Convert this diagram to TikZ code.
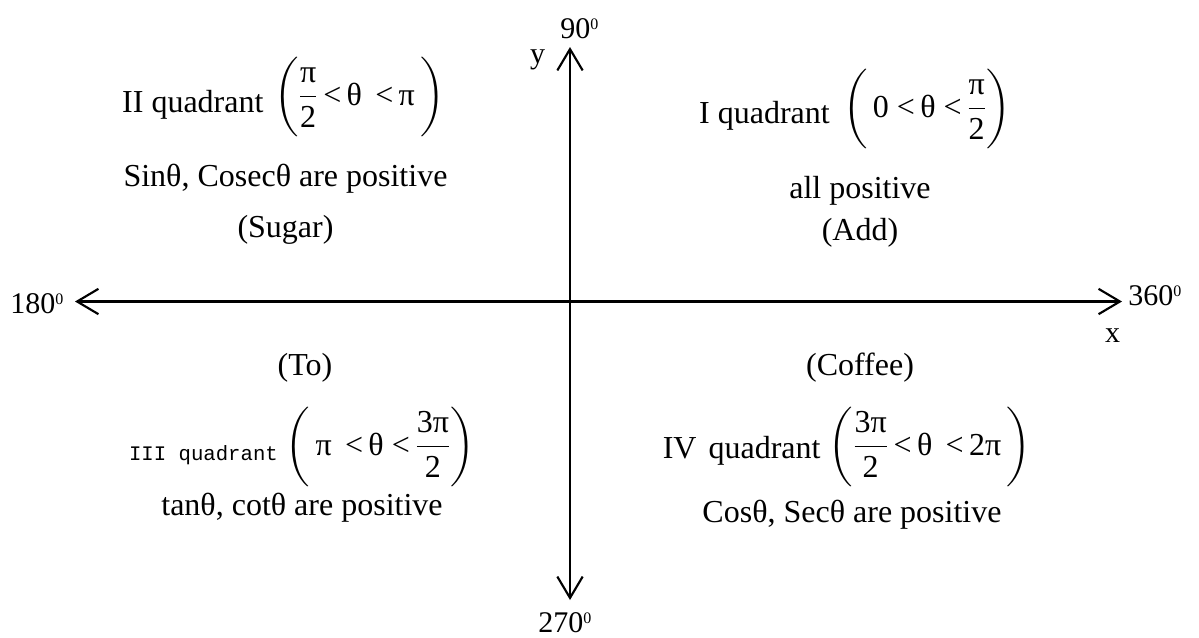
\documentclass[tikz,border=0pt]{standalone}
\usepackage{amsmath}
\usepackage{fontspec}
\setmainfont{Liberation Serif}
\setmonofont{Liberation Mono}
\usetikzlibrary{arrows.meta}

\newcommand{\dgr}{\raisebox{6.75pt}{\fontsize{12}{12}\selectfont 0}}
\newcommand{\tx}[1]{\text{#1}}
\newcommand{\fr}[2]{\dfrac{\tx{#1}\rule[-2pt]{0pt}{2pt}}{\tx{#2}\rule{0pt}{17pt}}}

\begin{document}
\begin{tikzpicture}[x=0.75pt,y=-0.75pt,
  lbl/.style={inner sep=0pt, font=\fontsize{24}{28}\selectfont, anchor=base},
  axlbl/.style={inner sep=0pt, font=\fontsize{22.5}{27}\selectfont, anchor=base west},
  axletter/.style={inner sep=0pt, font=\fontsize{22.5}{27}\selectfont, anchor=base},
  axisline/.style={line width=1.6pt,
    {Straight Barb[length=16pt,width=19pt]}-{Straight Barb[length=16pt,width=19pt]}}]
\useasboundingbox (0,0) rectangle (1199,637);

% axes
\coordinate (L) at (75,301.5);
\coordinate (R) at (1122,301.5);
\coordinate (T) at (570,47);
\coordinate (B) at (570,600);
\draw[axisline] (L) -- (R);
\draw[axisline] (T) -- (B);

% axis labels
\node[axlbl] (d180) at (10,313) {180\dgr};
\node[axlbl] (d360) at (1128,305) {360\dgr};
\node[axlbl] (d90) at (560,38) {90\dgr};
\node[axlbl] (d270) at (538,632) {270\dgr};
\node[axletter] (xl) at (1112.5,342) {x};
\node[axletter] (yl) at (537.5,63) {y};

% II quadrant
\node[lbl] (q2) at (283.5,112) {II quadrant\hspace{8pt}\raisebox{5.25pt}{$\biggl(\fr{π}{2}\tx{\,<\,θ \,<\,π}\,\biggr)$}};
\node[lbl] (q2a) at (285.5,186) {Sinθ, Cosecθ are positive};
\node[lbl] (q2b) at (285.5,237) {(Sugar)};

% I quadrant
\node[lbl] (q1) at (855,123) {I quadrant\hspace{10pt}\raisebox{4.5pt}{$\biggl(\tx{\,0 <\,θ <\,}\fr{π}{2}\biggr)$}};
\node[lbl] (q1a) at (860,198) {all positive};
\node[lbl] (q1b) at (860,240) {(Add)};

% III quadrant
\node[lbl] (q3b) at (305,375) {(To)};
\node[lbl] (q3) at (302,460) {{\fontsize{15.5}{18}\ttfamily III quadrant}\hspace{6pt}\raisebox{3.75pt}{$\biggl(\tx{\,π \,<\,θ <\,}\fr{3π}{2}\biggr)$}};
\node[lbl] (q3a) at (302,515) {tanθ, cotθ are positive};

% IV quadrant
\node[lbl] (q4b) at (860,375) {(Coffee)};
\node[lbl] (q4) at (847,458) {IV\hspace{9pt}quadrant\hspace{6pt}\raisebox{2.25pt}{$\biggl(\fr{3π}{2}\tx{\,<\,θ \,<\,2π}\,\biggr)$}};
\node[lbl] (q4a) at (852,522) {Cosθ, Secθ are positive};
\end{tikzpicture}
\end{document}
